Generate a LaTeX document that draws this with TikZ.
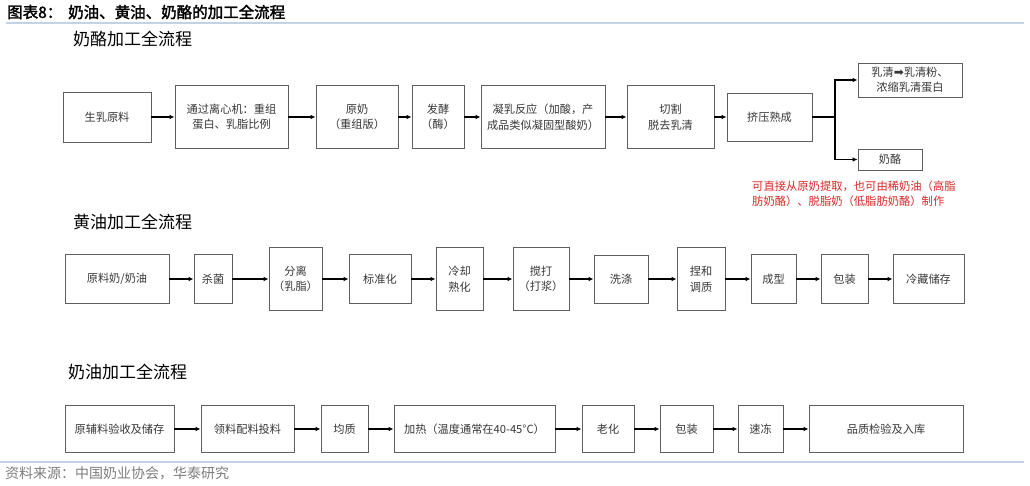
\documentclass[tikz,border=0pt]{standalone}
\usepackage{fontspec}
\newfontfamily\cjk{Noto Sans CJK SC}
\newfontfamily\cjkbold[FakeBold=2]{Noto Sans CJK SC}
\newfontfamily\symf{DejaVu Sans}
\usetikzlibrary{arrows.meta}
\definecolor{boxgray}{RGB}{95,95,95}
\definecolor{txtgray}{RGB}{55,55,55}
\definecolor{rulecol}{RGB}{195,210,228}
\definecolor{notered}{RGB}{215,40,40}
\definecolor{footgray}{RGB}{125,125,125}
\tikzset{
  box/.style={draw=boxgray, line width=0.8pt, inner sep=0pt, align=center,
    text=txtgray, font=\cjk\fontsize{11.2}{15.5}\selectfont},
  arr/.style={line width=1.6pt, -{Latex[length=5pt,width=4.5pt]}},
  sectitle/.style={anchor=west, inner sep=0pt, font=\cjk\fontsize{17}{19}\selectfont},
}
\begin{document}
\begin{tikzpicture}[x=1pt,y=-1pt]
\useasboundingbox (0,0) rectangle (1030,486);
% header
\node[anchor=west, inner sep=0pt, font=\cjkbold\fontsize{15.5}{17}\selectfont] (h1) at (7,12) {图表8：};
\node[anchor=west, inner sep=0pt, font=\cjkbold\fontsize{15.5}{17}\selectfont] (h2) at (68,12) {奶油、黄油、奶酪的加工全流程};
\draw[rulecol, line width=2pt] (6,23) -- (1024,23);
\draw[rulecol, line width=2pt] (0,462) -- (1024,462);
\node[anchor=west, inner sep=0pt, text=footgray, font=\cjk\fontsize{14}{16}\selectfont] (foot) at (5,473) {资料来源：中国奶业协会，华泰研究};

% section titles
\node[sectitle] (t1) at (73,39) {奶酪加工全流程};
\node[sectitle] (t2) at (73,222) {黄油加工全流程};
\node[sectitle] (t3) at (68,372) {奶油加工全流程};

% row 1
\node[box, minimum width=88, minimum height=50] (a1) at (107,117) {生乳原料};
\node[box, minimum width=113, minimum height=63] (a2) at (231.5,117) {通过离心机：重组\\蛋白、乳脂比例};
\node[box, minimum width=82, minimum height=63] (a3) at (357,117) {原奶\\（重组版）};
\node[box, minimum width=52, minimum height=63] (a4) at (438,117) {发酵\\（酶）};
\node[box, minimum width=124, minimum height=63] (a5) at (543,117) {凝乳反应（加酸，产\\成品类似凝固型酸奶）};
\node[box, minimum width=87, minimum height=63] (a6) at (670.5,117) {切割\\脱去乳清};
\node[box, minimum width=85, minimum height=48] (a7) at (769.5,117) {挤压熟成};
\node[box, minimum width=104, minimum height=34] (a8) at (910,80) {乳清{\symf\fontsize{12}{12}\selectfont ➡}乳清粉、\\浓缩乳清蛋白};
\node[box, minimum width=64, minimum height=21] (a9) at (890,159.5) {奶酪};
\coordinate (j) at (835,117);
\draw[arr] (a1) -- (a2);
\draw[arr] (a2) -- (a3);
\draw[arr] (a3) -- (a4);
\draw[arr] (a4) -- (a5);
\draw[arr] (a5) -- (a6);
\draw[arr] (a6) -- (a7);
\draw[arr] (a7.east) -- (j) |- (a8.west);
\draw[arr] (j) |- (a9.west);
\node[anchor=north west, inner sep=0pt, align=left, text=notered, font=\cjk\fontsize{11.3}{15}\selectfont] (note) at (752,181) {可直接从原奶提取，也可由稀奶油（高脂\\肪奶酪）、脱脂奶（低脂肪奶酪）制作};

% row 2
\node[box, minimum width=104, minimum height=49] (b1) at (117,279) {原料奶/奶油};
\node[box, minimum width=38, minimum height=49] (b2) at (213,279) {杀菌};
\node[box, minimum width=53, minimum height=63] (b3) at (295.5,279) {分离\\（乳脂）};
\node[box, minimum width=62, minimum height=49] (b4) at (380,279) {标准化};
\node[box, minimum width=47, minimum height=63] (b5) at (459.5,279) {冷却\\熟化};
\node[box, minimum width=56, minimum height=63] (b6) at (541,279) {搅打\\（打浆）};
\node[box, minimum width=54, minimum height=48] (b7) at (621,279) {洗涤};
\node[box, minimum width=48, minimum height=63] (b8) at (701,279) {捏和\\调质};
\node[box, minimum width=45, minimum height=49] (b9) at (773.5,279) {成型};
\node[box, minimum width=47, minimum height=49] (b10) at (844.5,279) {包装};
\node[box, minimum width=71, minimum height=49] (b11) at (928.5,279) {冷藏储存};
\foreach \p/\q in {b1/b2,b2/b3,b3/b4,b4/b5,b5/b6,b6/b7,b7/b8,b8/b9,b9/b10,b10/b11}
  \draw[arr] (\p) -- (\q);

% row 3
\node[box, minimum width=109, minimum height=47] (c1) at (119.5,429) {原辅料验收及储存};
\node[box, minimum width=93, minimum height=47] (c2) at (247.5,429) {领料配料投料};
\node[box, minimum width=47, minimum height=47] (c3) at (344.5,429) {均质};
\node[box, minimum width=161, minimum height=47] (c4) at (474.5,429) {加热（温度通常在40-45°C）};
\node[box, minimum width=52, minimum height=47] (c5) at (608,429) {老化};
\node[box, minimum width=53, minimum height=47] (c6) at (686.5,429) {包装};
\node[box, minimum width=45, minimum height=47] (c7) at (760.5,429) {速冻};
\node[box, minimum width=154, minimum height=47] (c8) at (886,429) {品质检验及入库};
\foreach \p/\q in {c1/c2,c2/c3,c3/c4,c4/c5,c5/c6,c6/c7,c7/c8}
  \draw[arr] (\p) -- (\q);
\end{tikzpicture}
\end{document}
